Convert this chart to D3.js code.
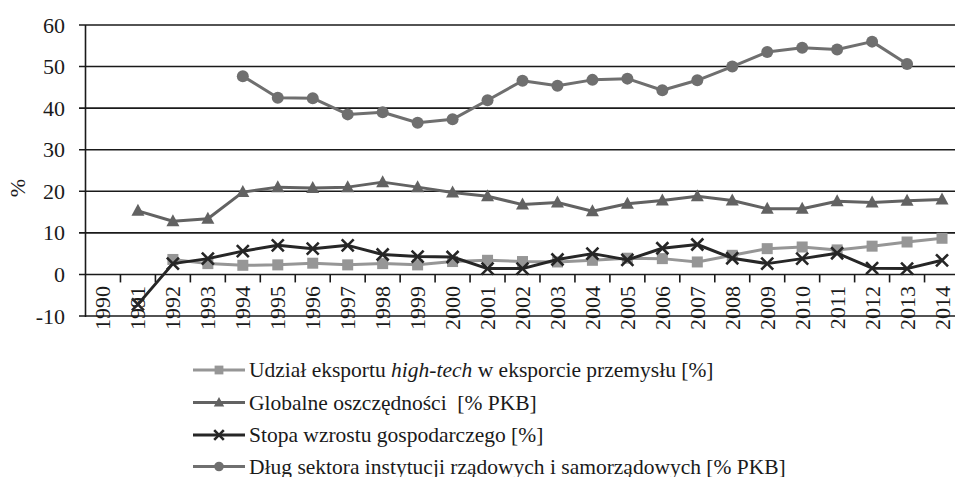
<!DOCTYPE html>
<html><head><meta charset="utf-8">
<script src="https://cdn.jsdelivr.net/npm/d3@7"></script>
</head><body style="margin:0">
<svg id="c" width="955" height="477"></svg>
<script>
const years = ["1990","1991","1992","1993","1994","1995","1996","1997","1998","1999","2000","2001","2002","2003","2004","2005","2006","2007","2008","2009","2010","2011","2012","2013","2014"];
const yTicks = [-10,0,10,20,30,40,50,60];
const highTech = [null,null,3.6,2.6,2.2,2.3,2.7,2.3,2.6,2.3,3.1,3.4,3.1,3.0,3.4,3.9,3.8,3.0,4.6,6.2,6.6,5.9,6.8,7.8,8.7];
const savings = [null,15.3,12.8,13.4,19.8,21.0,20.8,21.0,22.2,21.0,19.7,18.8,16.8,17.3,15.2,17.0,17.8,18.8,17.8,15.8,15.8,17.6,17.3,17.7,18.0];
const growth = [null,-7.2,2.6,3.8,5.6,7.0,6.2,7.0,4.8,4.3,4.2,1.4,1.4,3.6,5.0,3.5,6.3,7.2,3.9,2.6,3.8,5.1,1.5,1.4,3.4];
const debt = [null,null,null,null,47.7,42.5,42.4,38.5,39.0,36.5,37.3,41.9,46.6,45.4,46.8,47.1,44.3,46.7,50.0,53.5,54.5,54.1,56.0,50.6,null];
const seriesNames = ["Udział eksportu high-tech w eksporcie przemysłu [%]","Globalne oszczędności\u00a0 [% PKB]","Stopa wzrostu gospodarczego [%]","Dług sektora instytucji rządowych i samorządowych [% PKB]"];

const FONT = '"Liberation Serif"';
const svg = d3.select("#c").attr("font-family","Liberation Serif").style("font-family",FONT);
const x = d3.scaleBand().domain(years).range([85.5, 959.5]);
const y = d3.scaleLinear().domain([-10,60]).range([316,25]);
const L = 85.5, R = 955;

function txt(sel, size) {
  return sel.attr("font-family","Liberation Serif").style("font-family",FONT).style("font-size",size+"px").attr("fill","#1a1a1a");
}

svg.append("g").selectAll("line").data(yTicks).join("line")
  .attr("x1",79).attr("x2",R).attr("y1",d=>y(d)).attr("y2",d=>y(d))
  .attr("stroke","#1a1a1a").attr("stroke-width",1.6);
txt(svg.selectAll("text.yl").data(yTicks).join("text").attr("class","yl")
  .attr("x",65).attr("y",d=>y(d)+7.5).attr("text-anchor","end"),22).text(d=>d);
svg.append("line").attr("x1",L).attr("x2",L).attr("y1",y(60)).attr("y2",y(-10)+1)
  .attr("stroke","#1a1a1a").attr("stroke-width",1.6);
const tickXs = years.map(d=>x(d)).slice(1);
svg.append("g").selectAll("line").data(tickXs).join("line")
  .attr("x1",d=>d).attr("x2",d=>d).attr("y1",y(0)).attr("y2",y(0)+8)
  .attr("stroke","#1a1a1a").attr("stroke-width",1.6);
txt(svg.selectAll("text.xl").data(years).join("text").attr("class","xl")
  .attr("transform",d=>`translate(${x(d)+x.bandwidth()/2+7.5},286) rotate(-90)`)
  .attr("text-anchor","end"),22).text(d=>d);
txt(svg.append("text").attr("transform","translate(25,188) rotate(-90)")
  .attr("text-anchor","middle"),22).text("%");

const series = [
  {vals:highTech, color:"#969696", marker:"square"},
  {vals:savings, color:"#626262", marker:"triangle"},
  {vals:growth, color:"#262626", marker:"cross"},
  {vals:debt, color:"#6f6f6f", marker:"circle"}
];
const cx = i => x(years[i]) + x.bandwidth()/2;
function drawMarker(g, type, px, py, color, s) {
  s = s || 1;
  if (type==="square") g.append("rect").attr("x",px-5.5*s).attr("y",py-5.5*s).attr("width",11*s).attr("height",11*s).attr("fill",color);
  else if (type==="triangle") g.append("path").attr("d",`M${px},${py-7*s}L${px+6.5*s},${py+5*s}L${px-6.5*s},${py+5*s}Z`).attr("fill",color);
  else if (type==="circle") g.append("circle").attr("cx",px).attr("cy",py).attr("r",6*s).attr("fill",color);
  else if (type==="cross") g.append("path").attr("d",`M${px-6*s},${py-6*s}L${px+6*s},${py+6*s}M${px+6*s},${py-6*s}L${px-6*s},${py+6*s}`).attr("stroke",color).attr("stroke-width",2.6).attr("fill","none");
}
series.forEach(s=>{
  const line = d3.line().defined(d=>d!=null).x((d,i)=>cx(i)).y(d=>y(d));
  svg.append("path").datum(s.vals).attr("d",line).attr("fill","none")
    .attr("stroke",s.color).attr("stroke-width",3).attr("stroke-linejoin","round");
  const g = svg.append("g");
  s.vals.forEach((v,i)=>{ if(v!=null) drawMarker(g,s.marker,cx(i),y(v),s.color); });
});

const legY = [370,402.5,435,466.5];
series.forEach((s,i)=>{
  const g = svg.append("g");
  g.append("line").attr("x1",193).attr("x2",245).attr("y1",legY[i]).attr("y2",legY[i])
    .attr("stroke",s.color).attr("stroke-width",3);
  drawMarker(g,s.marker,219,legY[i],s.color,0.8);
});
series.forEach((s,i)=>{
  const t = txt(svg.append("text").attr("x",249).attr("y",legY[i]+7),21.5);
  if (i===0) {
    t.append("tspan").text("Udział eksportu ");
    t.append("tspan").style("font-style","italic").text("high-tech");
    t.append("tspan").text(" w eksporcie przemysłu [%]");
  } else t.text(seriesNames[i]);
});
</script>
</body></html>
